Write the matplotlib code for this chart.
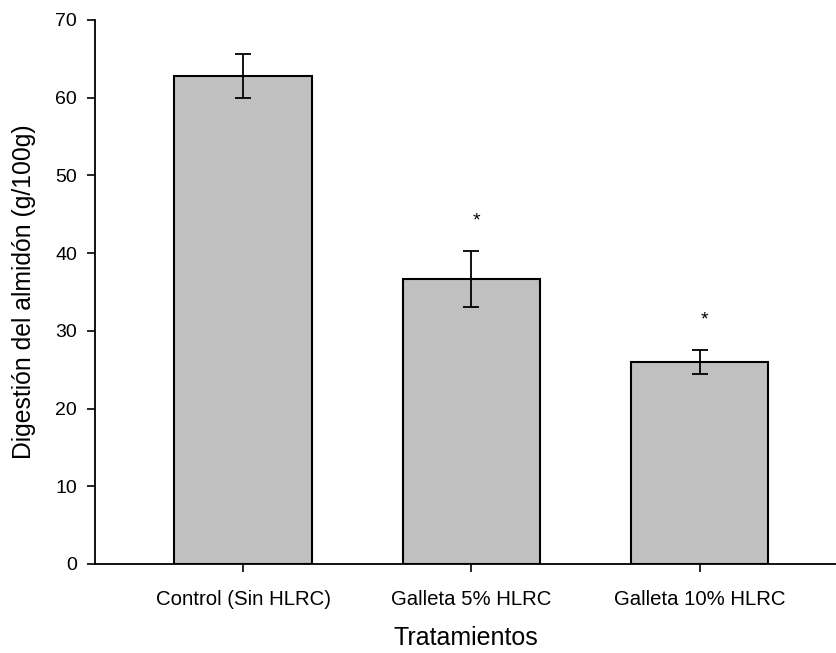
import numpy as np
import matplotlib
matplotlib.use("Agg")
import matplotlib.pyplot as plt

plt.rcParams['font.family'] = ['Liberation Sans', 'DejaVu Sans']

# datos
tratamientos = ['Control (Sin HLRC)', 'Galleta 5% HLRC', 'Galleta 10% HLRC']
digestion = [62.8, 36.7, 26.0]
error = [2.8, 3.6, 1.5]
signif = ['', '*', '*']

fig = plt.figure(figsize=(8.37, 6.53), dpi=100)
ax = fig.add_axes([0.1135, 0.1363, 0.8865, 0.8331])

x = np.arange(len(tratamientos))
ax.bar(x, digestion, width=0.6, color='#c0c0c0', edgecolor='black', linewidth=1.5, zorder=2)
ax.errorbar(x, digestion, yerr=error, fmt='none', ecolor='black', elinewidth=1.3,
            capsize=6, capthick=1.3, zorder=3)

for i in range(len(x)):
    if signif[i]:
        ax.text(x[i] + 0.02, digestion[i] + error[i] + 3.9, signif[i], ha='center', va='center',
                fontsize=14)

ax.set_xlim(-0.648, 2.60)
ax.set_ylim(0, 70)
ax.set_yticks(np.arange(0, 71, 10))
ax.set_xticks(x)
ax.set_xticklabels(tratamientos, fontsize=14.7)
ax.tick_params(axis='y', labelsize=14, length=6, width=1.2, pad=7)
ax.tick_params(axis='x', length=6, width=1.2, pad=13)

ax.spines['top'].set_visible(False)
ax.spines['right'].set_visible(False)
ax.spines['left'].set_linewidth(1.3)
ax.spines['bottom'].set_linewidth(1.3)

ax.set_ylabel('Digestión del almidón (g/100g)', fontsize=17.8, labelpad=14)
ax.set_xlabel('Tratamientos', fontsize=18, labelpad=12)

fig.savefig('out.png', dpi=100)
